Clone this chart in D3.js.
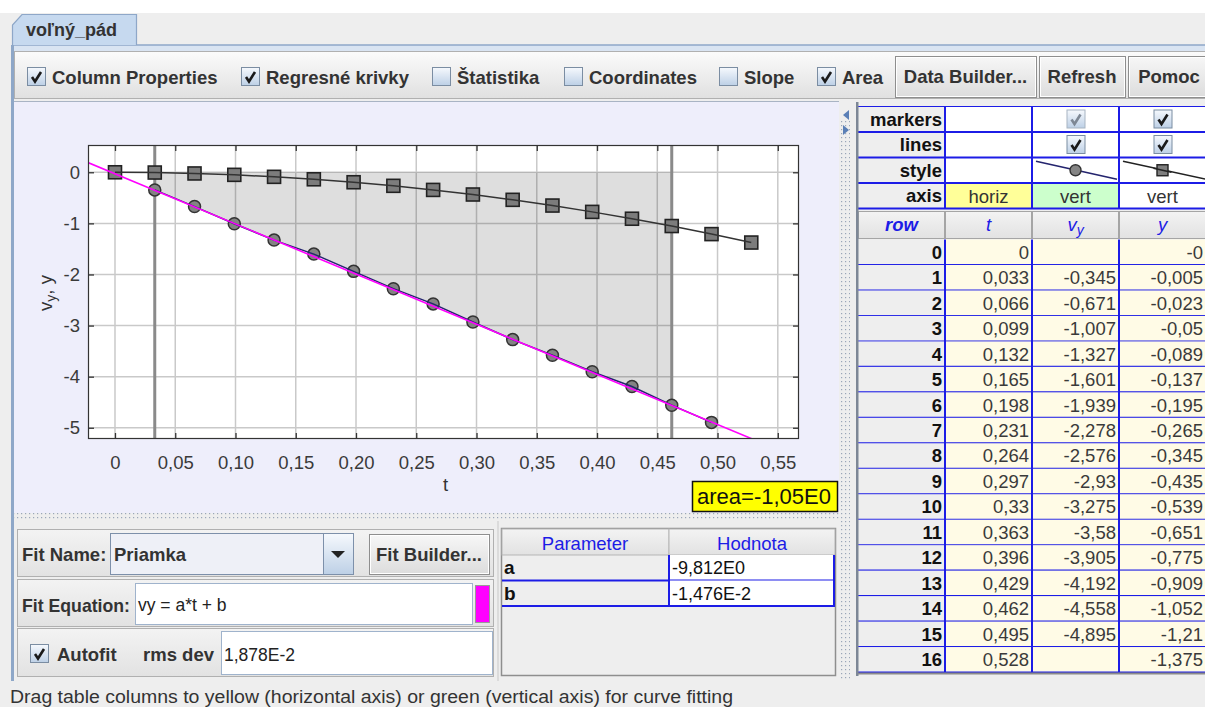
<!DOCTYPE html>
<html>
<head>
<meta charset="utf-8">
<script src="https://cdn.jsdelivr.net/npm/d3@7"></script>
<style>
body{margin:0;background:#eeeeee;overflow:hidden}
svg{display:block}
</style>
</head>
<body>
<svg id="app" width="1205" height="707"></svg>
<script>
var rowIdx = d3.range(17);
var tVals  = [0,0.033,0.066,0.099,0.132,0.165,0.198,0.231,0.264,0.297,0.33,0.363,0.396,0.429,0.462,0.495,0.528];
var vyVals = [null,-0.345,-0.671,-1.007,-1.327,-1.601,-1.939,-2.278,-2.576,-2.93,-3.275,-3.58,-3.905,-4.192,-4.558,-4.895,null];
var yVals  = [-0,-0.005,-0.023,-0.05,-0.089,-0.137,-0.195,-0.265,-0.345,-0.435,-0.539,-0.651,-0.775,-0.909,-1.052,-1.21,-1.375];

var xTickVals   = [0,0.05,0.10,0.15,0.20,0.25,0.30,0.35,0.40,0.45,0.50,0.55];
var xTickLabels = ['0','0,05','0,10','0,15','0,20','0,25','0,30','0,35','0,40','0,45','0,50','0,55'];
var yTickVals   = [0,-1,-2,-3,-4,-5];
var yTickLabels = ['0','-1','-2','-3','-4','-5'];

// fit (Priamka: vy = a*t + b) and area bounds
var fitA = -9.812, fitB = -0.01476, rmsDev = 0.01878;
var areaFrom = 0.033, areaTo = 0.462;

var propRows = ['markers','lines','style','axis'];
var colKeys = ['row','t','vy','y'];

var FONT = '"Liberation Sans", Arial, sans-serif';
var BLUE = '#1c1ce6';

var svg = d3.select('#app');
var defs = svg.append('defs');

function vgrad(id, c1, c2){
  var g = defs.append('linearGradient').attr('id',id).attr('x1',0).attr('y1',0).attr('x2',0).attr('y2',1);
  g.append('stop').attr('offset','0%').attr('stop-color',c1);
  g.append('stop').attr('offset','100%').attr('stop-color',c2);
}
vgrad('tbGrad','#fbfbfb','#e0e0e0');
vgrad('btnGrad','#f7f7f7','#dcdcdc');
vgrad('cbGrad','#f6f9fd','#bdd0e6');
vgrad('rowGrad','#f3f3f3','#e2e2e2');

var pat = defs.append('pattern').attr('id','dots').attr('width',4).attr('height',4).attr('patternUnits','userSpaceOnUse');
pat.append('rect').attr('width',4).attr('height',4).attr('fill','#eeeeee');
pat.append('rect').attr('x',1).attr('y',1).attr('width',1.2).attr('height',1.2).attr('fill','#9aa6b8');

function rect(g,x,y,w,h,fill,stroke,sw){
  return g.append('rect').attr('x',x).attr('y',y).attr('width',w).attr('height',h)
    .attr('fill',fill).attr('stroke',stroke||'none').attr('stroke-width',sw||1);
}
function line(g,x1,y1,x2,y2,col,sw){
  return g.append('line').attr('x1',x1).attr('y1',y1).attr('x2',x2).attr('y2',y2)
    .attr('stroke',col).attr('stroke-width',sw||1);
}
function txt(g,x,y,s,o){
  o = o || {};
  var t = g.append('text').attr('x',x).attr('y',y).text(s)
    .attr('font-family',FONT).attr('font-size',o.size||18.5)
    .attr('font-weight',o.bold?'bold':'normal')
    .attr('fill',o.color||'#333')
    .attr('text-anchor',o.anchor||'start');
  if(o.italic) t.attr('font-style','italic');
  if(o.len) t.attr('textLength',o.len).attr('lengthAdjust','spacingAndGlyphs');
  return t;
}
function checkbox(g,x,y,on,dim){
  rect(g,x+0.5,y+0.5,18,18,'url(#cbGrad)',dim?'#a7b4c2':'#7b8da2');
  if(on) g.append('path').attr('d','M'+(x+5)+','+(y+10)+' L'+(x+8)+','+(y+14.5)+' L'+(x+14)+','+(y+5))
    .attr('fill','none').attr('stroke',dim?'#7d8794':'#1a1a1a').attr('stroke-width',2.6);
}
function button(g,x,y,w,h,label){
  rect(g,x+0.5,y+0.5,w,h,'url(#btnGrad)','#8e8e8e');
  rect(g,x+1.5,y+1.5,w-2,h-2,'none','#ffffff',1);
  txt(g,x+w/2,y+h/2+6.5,label,{bold:true,anchor:'middle'});
}
function fmt(v){
  if(v===null) return '';
  if(Object.is(v,-0)) return '-0';
  return String(v).replace('.',',');
}
function sci(v,digits){
  var e = Math.floor(Math.log10(Math.abs(v)));
  return (v/Math.pow(10,e)).toFixed(digits).replace('.',',')+'E'+e;
}

// ---- window chrome ----
rect(svg,0,0,1205,13,'#ffffff');
rect(svg,12,45,1193,6,'#d9e4f2');
line(svg,12,45,1205,45,'#8ea7c8',1.5);
svg.append('path').attr('d','M12.5,45 V25 L22,14.5 H136.5 V45')
  .attr('fill','#c6d9ef').attr('stroke','#8ea7c8').attr('stroke-width',1.2);
txt(svg,26,36,'voľný_pád',{bold:true,size:18});
rect(svg,11,45,3,636,'#8ea7c8');

// toolbar
var tb = svg.append('g');
rect(tb,14.5,51.5,1192,47,'url(#tbGrad)','#b0b0b0');
var toolChecks = [
  {label:'Column Properties', x:27, on:true},
  {label:'Regresné krivky', x:241, on:true},
  {label:'Štatistika', x:432, on:false},
  {label:'Coordinates', x:564, on:false},
  {label:'Slope', x:719, on:false},
  {label:'Area', x:817, on:true}
];
toolChecks.forEach(function(c){
  checkbox(tb,c.x,67,c.on);
  txt(tb,c.x+25,84,c.label,{bold:true});
});
button(tb,895,56,141,41,'Data Builder...');
button(tb,1039,56,86,41,'Refresh');
button(tb,1128,56,82,41,'Pomoc');

// ---- chart panel ----
rect(svg,14,101,825,412,'#eeeefb');
line(svg,14,101.5,839,101.5,'#a9b4c4',1);

var plot = {l:88, t:145, r:799, b:439};
var x = d3.scaleLinear().domain([-0.0224,0.5676]).range([plot.l,plot.r]);
var y = d3.scaleLinear().domain([0.534,-5.22]).range([plot.t,plot.b]);

var chart = svg.append('g');
rect(chart,plot.l,plot.t,plot.r-plot.l,plot.b-plot.t,'#ffffff');

defs.append('clipPath').attr('id','plotClip').append('rect')
  .attr('x',plot.l).attr('y',plot.t).attr('width',plot.r-plot.l).attr('height',plot.b-plot.t);

// grid
chart.append('g').selectAll('line').data(xTickVals).enter().append('line')
  .attr('x1',function(d){return x(d);}).attr('x2',function(d){return x(d);})
  .attr('y1',plot.t).attr('y2',plot.b).attr('stroke','#c9c9c9').attr('stroke-width',1.5);
chart.append('g').selectAll('line').data(yTickVals).enter().append('line')
  .attr('y1',function(d){return y(d);}).attr('y2',function(d){return y(d);})
  .attr('x1',plot.l).attr('x2',plot.r).attr('stroke','#c9c9c9').attr('stroke-width',1.5);

var pts = rowIdx.map(function(i){return {t:tVals[i], vy:vyVals[i], y:yVals[i]};});
var vyPts = pts.filter(function(d){return d.vy!==null;});
var areaPts = vyPts.filter(function(d){return d.t>=areaFrom-1e-9 && d.t<=areaTo+1e-9;});

var inner = chart.append('g').attr('clip-path','url(#plotClip)');

// area under vy between the two bounds
inner.append('path').datum(areaPts)
  .attr('d',d3.area().x(function(d){return x(d.t);}).y0(y(0)).y1(function(d){return y(d.vy);}))
  .attr('fill','rgba(0,0,0,0.13)');
[areaFrom,areaTo].forEach(function(tb){
  line(inner,x(tb),plot.t,x(tb),plot.b,'#8a8a8a',3);
});

// y series: squares + line
inner.append('g').selectAll('rect').data(pts).enter().append('rect')
  .attr('x',function(d){return x(d.t)-6.5;}).attr('y',function(d){return y(d.y)-6.5;})
  .attr('width',13).attr('height',13).attr('fill','#7c7c7c').attr('stroke','#222').attr('stroke-width',1.6);
inner.append('path').datum(pts)
  .attr('d',d3.line().x(function(d){return x(d.t);}).y(function(d){return y(d.y);}))
  .attr('fill','none').attr('stroke','#333').attr('stroke-width',1.5);

// vy series: circles + line
inner.append('g').selectAll('circle').data(vyPts).enter().append('circle')
  .attr('cx',function(d){return x(d.t);}).attr('cy',function(d){return y(d.vy);})
  .attr('r',6).attr('fill','#838383').attr('stroke','#333').attr('stroke-width',1.5);
inner.append('path').datum(vyPts)
  .attr('d',d3.line().x(function(d){return x(d.t);}).y(function(d){return y(d.vy);}))
  .attr('fill','none').attr('stroke','#24246e').attr('stroke-width',1.5);

// fit line
var xd = x.domain();
inner.append('path').datum(xd)
  .attr('d',d3.line().x(function(d){return x(d);}).y(function(d){return y(fitA*d+fitB);}))
  .attr('fill','none').attr('stroke','#ff00ff').attr('stroke-width',1.6)
  .attr('transform','translate(0,0.8)');

// frame
rect(chart,plot.l+0.5,plot.t+0.5,plot.r-plot.l-1,plot.b-plot.t-1,'none','#333',1.2);

// axes (inner ticks on all sides)
function styleAxis(g){
  g.select('.domain').remove();
  g.selectAll('.tick line').attr('stroke','#333').attr('stroke-width',1.3);
  g.selectAll('.tick text').attr('font-family',FONT).attr('font-size',18.5).attr('fill','#3a3a3a');
}
chart.append('g').attr('transform','translate(0,'+plot.b+')')
  .call(d3.axisBottom(x).tickValues(xTickVals).tickSize(-6).tickPadding(17)
    .tickFormat(function(d,i){return xTickLabels[i];})).call(styleAxis);
chart.append('g').attr('transform','translate(0,'+plot.t+')')
  .call(d3.axisTop(x).tickValues(xTickVals).tickSize(-6).tickFormat('')).call(styleAxis);
chart.append('g').attr('transform','translate('+plot.l+',0)')
  .call(d3.axisLeft(y).tickValues(yTickVals).tickSize(-6).tickPadding(8)
    .tickFormat(function(d,i){return yTickLabels[i];})).call(styleAxis);
chart.append('g').attr('transform','translate('+plot.r+',0)')
  .call(d3.axisRight(y).tickValues(yTickVals).tickSize(-6).tickFormat('')).call(styleAxis);

txt(chart,443,491,'t',{color:'#333'});
var yl = chart.append('text').attr('transform','translate(52,293) rotate(-90)')
  .attr('text-anchor','middle').attr('font-family',FONT).attr('font-size',18.5).attr('fill','#333');
yl.append('tspan').text('v');
yl.append('tspan').attr('dy',4).attr('font-size',14).text('y');
yl.append('tspan').attr('dy',-4).text(', y');

// area label (trapezoid integral of vy between the bounds)
var areaVal = 0;
for(var i=1;i<areaPts.length;i++){
  areaVal += (areaPts[i].t-areaPts[i-1].t)*(areaPts[i].vy+areaPts[i-1].vy)/2;
}
rect(chart,692.5,481.5,145,30,'#ffff00','#111',1.5);
txt(chart,697,504,'area='+sci(areaVal,2),{size:22,color:'#111'});

// splitters
rect(svg,14,513,825,8,'url(#dots)');
rect(svg,841,120,9,560,'url(#dots)');
svg.append('path').attr('d','M849,110 L843,115 L849,120 Z').attr('fill','#5a7fb6');
svg.append('path').attr('d','M843,125 L849,130 L843,135 Z').attr('fill','#5a7fb6');

// ---- data table (right) ----
var colX = d3.scaleBand().domain(colKeys).range([858,1206]);
var propY = d3.scaleBand().domain(propRows).range([106.5,208.5]);
var rowY = d3.scaleBand().domain(rowIdx).range([239.5,672.5]);
var cw = colX.bandwidth();
var tab = svg.append('g');
rect(tab,858,102,348,576,'#eeeeee');

// property rows
propRows.forEach(function(p){
  var yy = propY(p), h = propY.bandwidth();
  rect(tab,colX('row'),yy,cw,h,'#eeeeee');
  txt(tab,colX('row')+cw-3,yy+h/2+6.5,p,{bold:true,anchor:'end',color:'#111'});
  ['t','vy','y'].forEach(function(k){
    var fill = '#ffffff';
    if(p==='axis' && k==='t') fill = '#ffff99';
    if(p==='axis' && k==='vy') fill = '#ccffcc';
    rect(tab,colX(k),yy,cw,h,fill);
  });
});
var pcx = function(k){return colX(k)+cw/2;};
['vy','y'].forEach(function(k){
  checkbox(tab,pcx(k)-9,propY('markers')+3,true,k==='vy');
  checkbox(tab,pcx(k)-9,propY('lines')+3,true,false);
  txt(tab,pcx(k),propY('axis')+propY.bandwidth()/2+7,'vert',{anchor:'middle'});
});
txt(tab,pcx('t'),propY('axis')+propY.bandwidth()/2+7,'horiz',{anchor:'middle'});
var sy = propY('style')+propY.bandwidth()/2;
line(tab,colX('vy')+4,sy-9,colX('vy')+cw-2,sy+9,'#24246e',1.5);
tab.append('circle').attr('cx',pcx('vy')).attr('cy',sy).attr('r',5.5).attr('fill','#858585').attr('stroke','#333').attr('stroke-width',1.4);
line(tab,colX('y')+4,sy-9,colX('y')+cw,sy+9,'#222',1.5);
rect(tab,pcx('y')-5.5,sy-5.5,11,11,'#7f7f7f','#222',1.4);
line(tab,pcx('y')-9,sy-2,pcx('y')+9,sy+2,'#222',1.5);
// property grid
propRows.forEach(function(p){
  line(tab,858,propY(p)+propY.bandwidth(),1206,propY(p)+propY.bandwidth(),BLUE,2);
});
line(tab,858,propY('markers'),1206,propY('markers'),BLUE,1.2);
['t','vy','y'].forEach(function(k){
  line(tab,colX(k),propY('markers'),colX(k),propY('axis')+propY.bandwidth(),BLUE,2);
});

// header row
colKeys.forEach(function(k){
  rect(tab,colX(k)+0.5,211.5,cw-1,27,'url(#rowGrad)','#a5a5a5');
});
var hy = 231;
txt(tab,pcx('row'),hy,'row',{bold:true,italic:true,color:BLUE,anchor:'middle'});
txt(tab,pcx('t'),hy,'t',{italic:true,color:BLUE,anchor:'middle'});
var vh = tab.append('text').attr('x',pcx('vy')).attr('y',hy).attr('text-anchor','middle')
  .attr('font-family',FONT).attr('font-size',18.5).attr('font-style','italic').attr('fill',BLUE);
vh.append('tspan').text('v');
vh.append('tspan').attr('dy',4).attr('font-size',14).text('y');
txt(tab,pcx('y'),hy,'y',{italic:true,color:BLUE,anchor:'middle'});

// data rows
var rows = tab.append('g').selectAll('g').data(rowIdx).enter().append('g')
  .attr('transform',function(i){return 'translate(0,'+rowY(i)+')';});
var rh = rowY.bandwidth();
rows.append('rect').attr('x',colX('row')).attr('width',cw).attr('height',rh).attr('fill','#eeeeee');
rows.append('rect').attr('x',colX('t')).attr('width',cw*3).attr('height',rh).attr('fill','#fffbe6');
rows.append('text').attr('x',colX('row')+cw-3).attr('y',rh/2+6.5).attr('text-anchor','end')
  .attr('font-family',FONT).attr('font-size',18.5).attr('font-weight','bold').attr('fill','#111')
  .text(function(i){return i;});
var colVals = {t:tVals, vy:vyVals, y:yVals};
['t','vy','y'].forEach(function(k){
  rows.append('text').attr('x',colX(k)+cw-3).attr('y',rh/2+6.5).attr('text-anchor','end')
    .attr('font-family',FONT).attr('font-size',18.5).attr('fill','#3a3a3a')
    .text(function(i){return fmt(colVals[k][i]);});
});
rows.append('line').attr('x1',858).attr('x2',1206).attr('y1',rh).attr('y2',rh)
  .attr('stroke',BLUE).attr('stroke-width',2);
['t','vy','y'].forEach(function(k){
  line(tab,colX(k),rowY(0),colX(k),rowY(16)+rh,BLUE,2);
});
line(tab,858,673.5,1206,673.5,'#8a8a8a',2);
rect(tab,856,102,2.5,574,'#7d8796');

// ---- fit panel (bottom left) ----
var fp = svg.append('g');
rect(fp,14,521,825,160,'#eeeeee');
rect(fp,17.5,529.5,476,47,'url(#rowGrad)','#b0b0b0');
txt(fp,22,561,'Fit Name:',{bold:true});
rect(fp,110.5,533.5,243,41,'#eef0f7','#7d90aa');
rect(fp,323.5,533.5,30,41,'url(#cbGrad)','#7d90aa');
fp.append('path').attr('d','M331,551 L345,551 L338,558 Z').attr('fill','#222');
txt(fp,114,561,'Priamka',{bold:true});
button(fp,369,534,120,40,'Fit Builder...');

rect(fp,17.5,579.5,476,47,'url(#rowGrad)','#b0b0b0');
txt(fp,22,612,'Fit Equation:',{bold:true,len:108});
rect(fp,135.5,583.5,337,41,'#ffffff','#9fb3cc');
txt(fp,138,611,'vy = a*t + b',{size:17.5,color:'#222'});
rect(fp,475.5,585.5,14,37,'#ff00ff','#999');

rect(fp,17.5,628.5,476,48,'url(#rowGrad)','#b0b0b0');
checkbox(fp,30,644,true);
txt(fp,57,661,'Autofit',{bold:true});
txt(fp,143,661,'rms dev',{bold:true});
rect(fp,221.5,631.5,271,43,'#ffffff','#9fb3cc');
txt(fp,224,661,sci(rmsDev,3),{size:17.5,color:'#222'});

// parameter table
line(fp,498,521,498,681,'#c8c8c8',1);
rect(fp,501.5,528.5,334,147,'#eeeeee','#8e8e8e',1.5);
rect(fp,502,529,167,26,'url(#rowGrad)','#b5b5b5');
rect(fp,669,529,166,26,'url(#rowGrad)','#b5b5b5');
txt(fp,585,550,'Parameter',{color:BLUE,anchor:'middle'});
txt(fp,752,550,'Hodnota',{color:BLUE,anchor:'middle'});
var params = [{n:'a', v:fitA}, {n:'b', v:fitB}];
params.forEach(function(p,i){
  var yy = 555+i*25.5;
  rect(fp,669,yy,166,25.5,'#ffffff');
  txt(fp,504,yy+19,p.n,{bold:true,color:'#111',size:19});
  txt(fp,672,yy+19,sci(p.v,3),{size:18,color:'#111'});
  line(fp,502,yy+25.5,835,yy+25.5,BLUE,2);
});
line(fp,669,555,669,606,BLUE,2);
line(fp,834,555,834,606,BLUE,2);

// status bar
txt(svg,10,703,'Drag table columns to yellow (horizontal axis) or green (vertical axis) for curve fitting',{size:17.5,color:'#333',len:723});
</script>
</body>
</html>
